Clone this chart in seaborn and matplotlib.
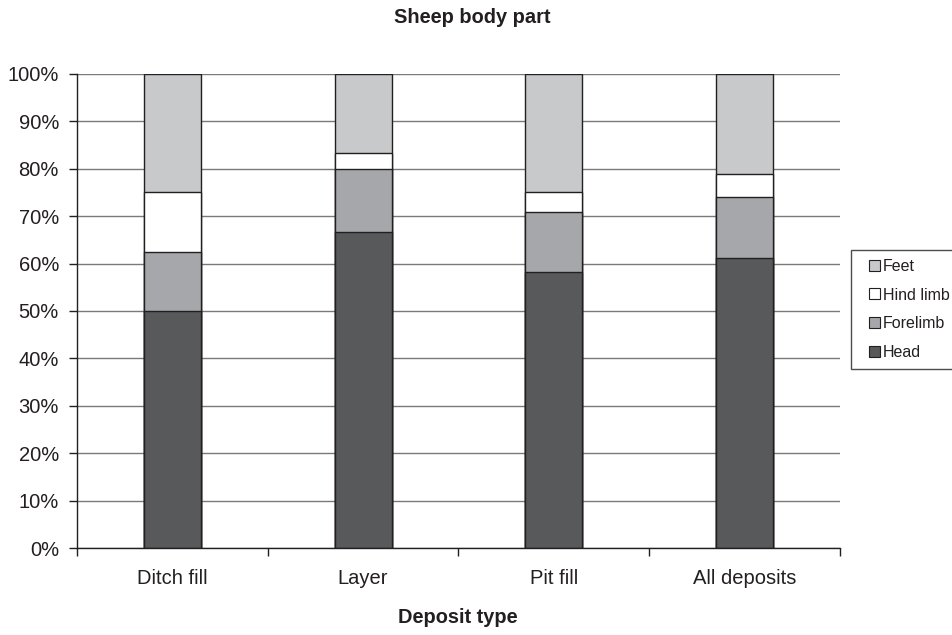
import matplotlib
matplotlib.use("Agg")
import matplotlib.pyplot as plt
import seaborn as sns
import pandas as pd
import numpy as np
from matplotlib.patches import Patch, Rectangle
from matplotlib.legend_handler import HandlerPatch
from matplotlib.ticker import FixedLocator, FuncFormatter

categories = ["Ditch fill", "Layer", "Pit fill", "All deposits"]
head = [50.0, 66.7, 58.3, 61.2]
forelimb = [12.5, 13.3, 12.5, 12.9]
hind_limb = [12.5, 3.3, 4.2, 4.9]
feet = [25.0, 16.7, 25.0, 21.0]
series_names = ["Head", "Forelimb", "Hind limb", "Feet"]
colors = {"Head": "#58595b", "Forelimb": "#a5a7aa", "Hind limb": "#ffffff", "Feet": "#c8c9cb"}

sns.set_style("white")
plt.rcParams["font.family"] = ["Liberation Sans", "DejaVu Sans"]
txt_color = "#231f20"

fig = plt.figure(figsize=(9.53, 6.35), dpi=100)
ax = fig.add_axes([0.0808, 0.137, 0.8006, 0.7465])

data = [head, forelimb, hind_limb, feet]
cum = np.cumsum(np.array(data), axis=0)
df = pd.DataFrame({"cat": categories})

ax.set_axisbelow(True)
ax.yaxis.grid(True, color="#7a7a7a", linewidth=1.0)
for i in range(len(series_names) - 1, -1, -1):
    name = series_names[i]
    df["v"] = cum[i]
    sns.barplot(data=df, x="cat", y="v", color=colors[name], width=0.3,
                edgecolor="#231f20", linewidth=1.0, saturation=1, ax=ax,
                errorbar=None, zorder=2)

ax.set_ylim(0, 100)
ax.set_xlim(-0.5, 3.5)
ax.set_yticks(np.arange(0, 101, 10))
ax.yaxis.set_major_formatter(FuncFormatter(lambda v, p: f"{int(v)}%"))
ax.xaxis.set_minor_locator(FixedLocator([-0.5, 0.5, 1.5, 2.5, 3.5]))
ax.tick_params(axis="x", which="major", length=0, pad=15, labelsize=14.5, labelcolor=txt_color)
ax.tick_params(axis="x", which="minor", length=6, color="#231f20", width=1, direction="out", bottom=True)
ax.tick_params(axis="y", which="major", length=6, color="#231f20", width=1, direction="out", left=True,
               labelsize=14.5, pad=7, labelcolor=txt_color)

for s in ["top", "right"]:
    ax.spines[s].set_visible(False)
for s in ["left", "bottom"]:
    ax.spines[s].set_color("#231f20")
    ax.spines[s].set_linewidth(1.0)

ax.set_xlabel("")
ax.set_ylabel("")
fig.text(0.4953, 0.973, "Sheep body part", ha="center", va="center", fontsize=14.4,
         fontweight="bold", color=txt_color)
fig.text(0.4808, 0.027, "Deposit type", ha="center", va="center", fontsize=14.4,
         fontweight="bold", color=txt_color)


def square_patch(legend, orig_handle, xdescent, ydescent, width, height, fontsize):
    s = 7.9
    return Rectangle((-xdescent + width - s, -ydescent + (height - s) / 2), s, s)


handles = [Patch(facecolor=colors[n], edgecolor="#231f20", linewidth=0.8, label=n)
           for n in ["Feet", "Hind limb", "Forelimb", "Head"]]
leg = fig.legend(handles=handles, loc="center left", bbox_to_anchor=(0.893, 0.5126),
                 bbox_transform=fig.transFigure, frameon=True, fancybox=False,
                 fontsize=11.5, handlelength=1.26, handleheight=0.7, handletextpad=0.19,
                 borderpad=0.55, labelspacing=0.87, borderaxespad=0, labelcolor=txt_color,
                 handler_map={Patch: HandlerPatch(patch_func=square_patch)})
leg.get_frame().set_edgecolor("#231f20")
leg.get_frame().set_linewidth(1.0)

fig.savefig("out.png", dpi=100)
